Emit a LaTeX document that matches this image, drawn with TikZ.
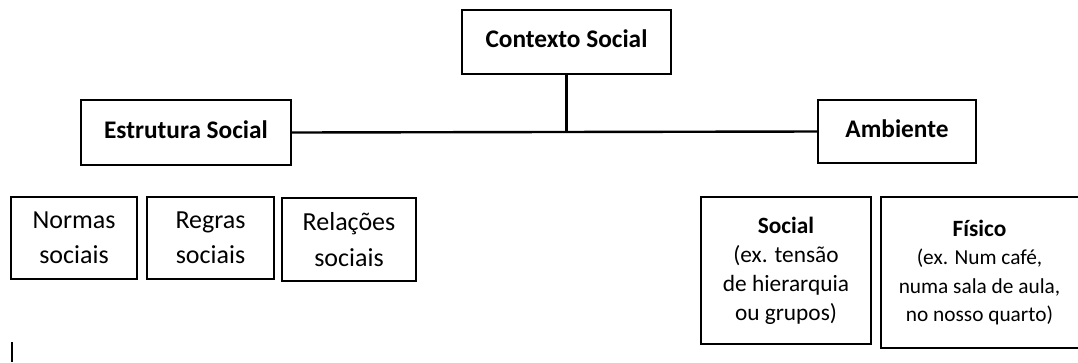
\documentclass[tikz,border=0pt]{standalone}
\usepackage{fontspec}
\setmainfont{Carlito}
\usetikzlibrary{positioning}

\begin{document}
\begin{tikzpicture}[x=0.75pt, y=-0.75pt,
    topbox/.style={draw, line width=1.8pt, font=\fontsize{19}{23}\selectfont\bfseries, inner sep=0pt, text depth=4.5pt},
    subbox/.style={draw, line width=0.9pt, align=center, inner sep=0pt, font=\fontsize{19.5}{26.5}\selectfont},
    envbox/.style={draw, line width=0.9pt, align=center, inner sep=0pt, font=\fontsize{17.5}{21.75}\selectfont}]
    \useasboundingbox (0,0) rectangle (1078,362);

    % top level
    \node[topbox, minimum width=209*0.75pt, minimum height=64*0.75pt] (ctx) at (566.5,42) {Contexto Social};
    \node[topbox, minimum width=210*0.75pt, minimum height=65*0.75pt] (estr) at (186,132.5) {Estrutura Social};
    \node[topbox, minimum width=158*0.75pt, minimum height=63*0.75pt] (amb) at (897,131.5) {Ambiente};
    \coordinate (hub) at (ctx.south |- estr.east);
    \draw[line width=1.8pt] (ctx.south) -- (hub);
    \draw[line width=1.8pt] (estr.east) -- (amb.west);

    % estrutura social
    \node[subbox, minimum width=126*0.75pt, minimum height=82*0.75pt] (normas) at (74,238) {Normas\\sociais};
    \node[subbox, minimum width=127*0.75pt, minimum height=82*0.75pt] (regras) at (210.5,238) {Regras\\sociais};
    \node[subbox, minimum width=134*0.75pt, minimum height=83*0.75pt] (rel) at (349,239.5) {Relações\\sociais};

    % ambiente
    \node[envbox, minimum width=170*0.75pt, minimum height=147*0.75pt] (soc) at (786,270.5) {\textbf{Social}\\(ex. tensão\\de hierarquia\\ou grupos)};
    \node[align=center, inner sep=0pt, font=\fontsize{16}{21.4}\selectfont] (fis) at (979.5,272.5) {\textbf{\fontsize{17.5}{21.4}\selectfont Físico}\\(ex. Num café,\\numa sala de aula,\\no nosso quarto)};
    \coordinate (fisne) at (1078,197);
    \coordinate (fisse) at (1078,348);
    \draw[line width=0.9pt] (fisne) -- (881,197) -- (881,348) -- (fisse);

    % cursor
    \draw[line width=0.8pt] (12,342) -- (12,362);
\end{tikzpicture}
\end{document}
